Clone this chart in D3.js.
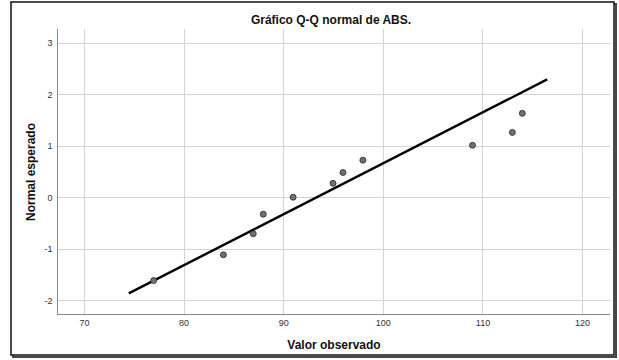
<!DOCTYPE html>
<html>
<head>
<meta charset="utf-8">
<script src="https://cdn.jsdelivr.net/npm/d3@7"></script>
<style>
  html, body { margin: 0; padding: 0; background: #fff; }
  svg { display: block; font-family: Arial, "Liberation Sans", sans-serif; }
</style>
</head>
<body>
<svg id="chart" width="619" height="360"></svg>
<script>
// Observed values and their expected normal scores
const observed = [77, 84, 87, 88, 91, 95, 96, 98, 109, 113, 114];
const expected = [-1.62, -1.12, -0.71, -0.33, 0.0, 0.27, 0.48, 0.72, 1.01, 1.26, 1.63];

// Reference line endpoints (observed, expected)
const lineX = [74.5, 116.5];
const lineY = [-1.87, 2.29];

const xTicks = [70, 80, 90, 100, 110, 120];
const yTicks = [-2, -1, 0, 1, 2, 3];

const title = "Gráfico Q-Q normal de ABS.";
const xTitle = "Valor observado";
const yTitle = "Normal esperado";

const svg = d3.select("#chart");
const plot = { left: 57, right: 610, top: 29, bottom: 314 };

// Outer frame
svg.append("rect")
  .attr("x", 13).attr("y", 4).attr("width", 603).attr("height", 353)
  .attr("fill", "none").attr("stroke", "#444").attr("stroke-width", 2);
svg.append("rect")
  .attr("x", 11).attr("y", 2).attr("width", 603).attr("height", 353)
  .attr("fill", "#fff").attr("stroke", "#111").attr("stroke-width", 1.5);

const x = d3.scaleLinear().domain([67.3, 122.8]).range([plot.left, plot.right]);
const y = d3.scaleLinear().domain([-2.27, 3.27]).range([plot.bottom, plot.top]);

// Gridlines
const grid = svg.append("g").attr("stroke", "#d4d4d4").attr("stroke-width", 1);
grid.selectAll("line.v").data(xTicks).join("line")
  .attr("class", "v")
  .attr("x1", d => Math.round(x(d)) + 0.5).attr("x2", d => Math.round(x(d)) + 0.5)
  .attr("y1", plot.top).attr("y2", plot.bottom);
grid.selectAll("line.h").data(yTicks).join("line")
  .attr("class", "h")
  .attr("x1", plot.left).attr("x2", plot.right)
  .attr("y1", d => Math.round(y(d)) + 0.5).attr("y2", d => Math.round(y(d)) + 0.5);

// Axes
const xAxis = d3.axisBottom(x).tickValues(xTicks).tickSize(0).tickPadding(5).tickFormat(d3.format("d"));
const yAxis = d3.axisLeft(y).tickValues(yTicks).tickSize(0).tickPadding(5).tickFormat(d => d < 0 ? "-" + Math.abs(d) : String(d));

const gx = svg.append("g").attr("transform", `translate(0,${plot.bottom + 0.5})`).call(xAxis);
gx.select(".domain").attr("stroke", "#8a8a8a").attr("d", `M${plot.left},0H${plot.right}`);
gx.selectAll("text").attr("fill", "#333").attr("font-size", 9).attr("font-family", "Arial, 'Liberation Sans', sans-serif");

const gy = svg.append("g").attr("transform", `translate(${plot.left + 0.5},0)`).call(yAxis);
gy.select(".domain").attr("stroke", "#8a8a8a").attr("d", `M0,${plot.top}V${plot.bottom}`);
gy.selectAll("text").attr("fill", "#333").attr("font-size", 9).attr("font-family", "Arial, 'Liberation Sans', sans-serif");

// Reference line
svg.append("line")
  .attr("x1", x(lineX[0])).attr("y1", y(lineY[0]))
  .attr("x2", x(lineX[1])).attr("y2", y(lineY[1]))
  .attr("stroke", "#000").attr("stroke-width", 2.4);

// Points
svg.append("g").selectAll("circle").data(observed).join("circle")
  .attr("cx", d => x(d))
  .attr("cy", (d, i) => y(expected[i]))
  .attr("r", 3)
  .attr("fill", "#707070")
  .attr("stroke", "#2a2a2a")
  .attr("stroke-width", 0.8);

// Titles
svg.append("text")
  .attr("x", 331).attr("y", 24)
  .attr("text-anchor", "middle")
  .attr("font-size", 12).attr("font-weight", "bold").attr("fill", "#111")
  .text(title);

svg.append("text")
  .attr("x", 334).attr("y", 349)
  .attr("text-anchor", "middle")
  .attr("font-size", 12).attr("font-weight", "bold").attr("fill", "#111")
  .text(xTitle);

svg.append("text")
  .attr("transform", `translate(35,172) rotate(-90)`)
  .attr("text-anchor", "middle")
  .attr("font-size", 12).attr("font-weight", "bold").attr("fill", "#111")
  .text(yTitle);
</script>
</body>
</html>
